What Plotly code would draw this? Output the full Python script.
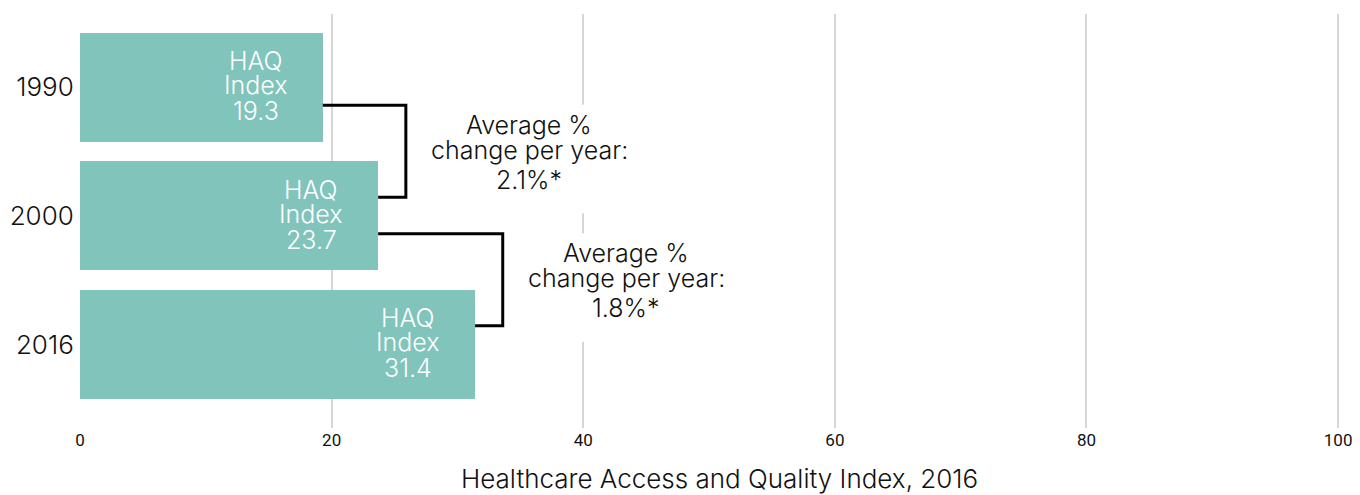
import plotly.graph_objects as go

years = ["1990", "2000", "2016"]
haq = [19.3, 23.7, 31.4]
changes = ["2.1%*", "1.8%*"]
x_ticks = [0, 20, 40, 60, 80, 100]
x_title = "Healthcare Access and Quality Index, 2016"

FONT = "Inter"
BAR_COLOR = "#80C4BB"
TEXT = "#111111"
FS = 25
W = 300
pos = list(range(len(years)))

fig = go.Figure()
fig.add_trace(go.Bar(
    x=haq, y=pos, orientation="h", width=0.848,
    marker=dict(color=BAR_COLOR, line=dict(width=0)),
    hoverinfo="skip", showlegend=False,
))

# brackets between consecutive bars, with the change annotation
ann_shifts = [27, 2, -28]
for i in range(len(years) - 1):
    bx = max(haq[i], haq[i + 1]) + 2.2
    cx = bx + 9.8
    mid = pos[i] + 0.5
    fig.add_trace(go.Scatter(
        x=[haq[i], bx, bx, haq[i + 1]],
        y=[pos[i] + 0.14, pos[i] + 0.14, pos[i + 1] - 0.145, pos[i + 1] - 0.145],
        mode="lines", line=dict(color="black", width=3),
        hoverinfo="skip", showlegend=False,
    ))
    # white backing box that hides gridlines behind the text
    fig.add_shape(
        type="rect", xref="x", yref="y",
        x0=cx - 9, x1=cx + 9, y0=mid - 0.365, y1=mid + 0.48,
        fillcolor="white", line=dict(width=0), layer="above",
    )
    lines = ["Average %", "change per year:", changes[i]]
    for ln, sh in zip(lines, ann_shifts):
        fig.add_annotation(
            x=cx, y=mid, xref="x", yref="y", yshift=sh,
            text=ln, showarrow=False, xanchor="center", yanchor="middle",
            font=dict(family=FONT, size=FS, color=TEXT, weight=W),
        )

# labels inside bars
bar_shifts = [26, 2, -24]
for v, p in zip(haq, pos):
    for ln, sh in zip(["HAQ", "Index", f"{v}"], bar_shifts):
        fig.add_annotation(
            x=v, y=p, xref="x", yref="y", xshift=-67, yshift=sh,
            text=ln, showarrow=False, xanchor="center", yanchor="middle",
            font=dict(family=FONT, size=FS, color="white", weight=W),
        )

fig.add_annotation(
    x=0.5075, y=0, xref="paper", yref="paper", yshift=-50,
    text=x_title, showarrow=False, xanchor="center", yanchor="middle",
    borderpad=0,
    font=dict(family=FONT, size=26, color=TEXT, weight=W),
)

fig.update_layout(
    width=1360, height=495,
    margin=dict(l=80, r=20, t=14, b=67),
    paper_bgcolor="white", plot_bgcolor="white",
    font=dict(family=FONT, color=TEXT),
    bargap=0,
)
fig.update_xaxes(
    range=[0, 100.15], tickvals=x_ticks, showgrid=True, gridcolor="#d6d6d6", gridwidth=2,
    zeroline=False, showline=False, ticks="", automargin=False,
    tickfont=dict(size=17, family="Roboto"), fixedrange=True,
)
fig.update_yaxes(
    range=[2.65, -0.57], tickvals=pos, ticktext=years, showgrid=False,
    zeroline=False, showline=False, ticks="outside", ticklen=0, tickcolor="white",
    automargin=False,
    tickfont=dict(size=26, family=FONT, weight=W), fixedrange=True,
)

fig.write_html(
    "out.html",
    config={"displayModeBar": False},
    post_script="document.body.style.margin='0';document.body.style.overflow='hidden';",
)
